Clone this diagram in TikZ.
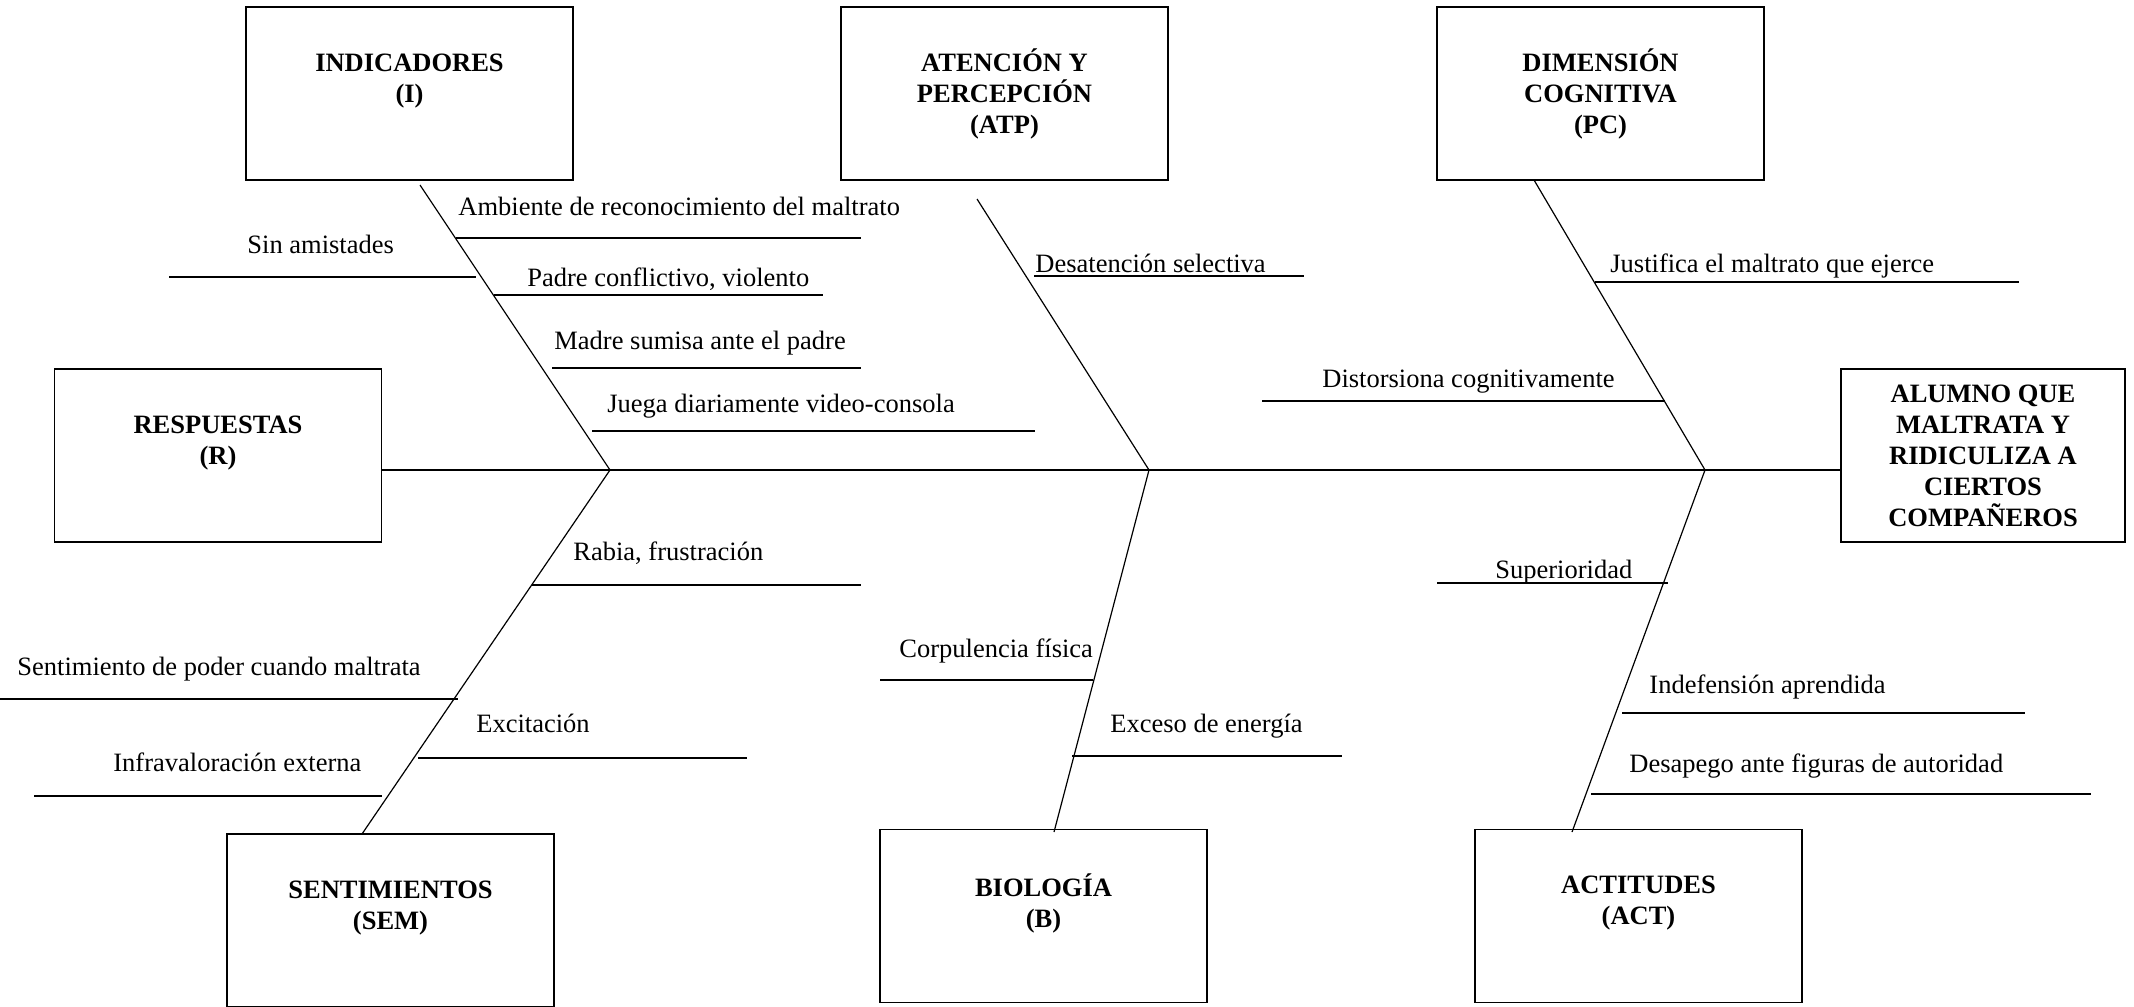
\documentclass[tikz,border=0pt]{standalone}
\usepackage{fontspec}
\setmainfont{Liberation Serif}
\tikzset{
  caja/.style={draw, line width=0.8pt, minimum width=163.5pt, minimum height=86.5pt,
    align=center, inner sep=2pt, font=\fontsize{13.25}{15.5}\selectfont\bfseries},
  causa/.style={anchor=base west, inner sep=0pt, font=\fontsize{13.25}{15.5}\selectfont},
  espina/.style={line width=1pt},
  hueso/.style={line width=0.6pt},
  rama/.style={line width=1pt},
}

\begin{document}
\begin{tikzpicture}[x=0.5pt, y=-0.5pt]
  \useasboundingbox (0,0) rectangle (2134,1006);

  % cajas de categorias
  \node [caja] (ind) at (409.5,93.5) {INDICADORES\\(I)\\~};
  \node [caja] (atp) at (1004.5,93.5) {ATENCIÓN Y\\PERCEPCIÓN\\(ATP)};
  \node [caja] (dc) at (1600.5,93.5) {DIMENSIÓN\\COGNITIVA\\(PC)};
  \node [caja] (resp) at (218,455.5) {RESPUESTAS\\(R)\\~};
  \node [caja, minimum width=142pt] (efecto) at (1983,455.5)
    {ALUMNO QUE\\MALTRATA Y\\RIDICULIZA A\\CIERTOS\\COMPAÑEROS};
  \node [caja] (sem) at (390.5,920.5) {SENTIMIENTOS\\(SEM)\\~};
  \node [caja] (bio) at (1043.5,916) {BIOLOGÍA\\(B)\\~};
  \node [caja] (act) at (1638.5,916) {ACTITUDES\\(ACT)\\~};

  % espina central
  \coordinate (j1) at (610,470);
  \coordinate (j2) at (1149,470);
  \coordinate (j3) at (1705,470);
  \draw [espina] (resp.east |- j1) -- (efecto.west |- j3);

  % huesos
  \coordinate (ind-b) at (420,185);
  \coordinate (atp-b) at (977,199);
  \coordinate (dc-b) at (1534,180);
  \coordinate (sem-b) at (362,834);
  \coordinate (bio-b) at (1054,832);
  \coordinate (act-b) at (1572,832);
  \draw [hueso] (ind-b) -- (j1) -- (sem-b);
  \draw [hueso] (atp-b) -- (j2) -- (bio-b);
  \draw [hueso] (dc-b) -- (j3) -- (act-b);

  % causas: indicadores
  \draw [rama] (456,238) -- (861,238);
  \node [causa] (c1) at (458,215) {Ambiente de reconocimiento del maltrato};
  \draw [rama] (169,277) -- (476,277);
  \node [causa] (c2) at (247,253) {Sin amistades};
  \draw [rama] (494,295) -- (823,295);
  \node [causa] (c3) at (527,286) {Padre conflictivo, violento};
  \draw [rama] (552,368) -- (861,368);
  \node [causa] (c4) at (554,349) {Madre sumisa ante el padre};
  \draw [rama] (592,431) -- (1035,431);
  \node [causa] (c5) at (607,412) {Juega diariamente video-consola};

  % causas: atencion y percepcion
  \draw [rama] (1034,276) -- (1304,276);
  \node [causa] (c6) at (1035,272) {Desatención selectiva};

  % causas: dimension cognitiva
  \draw [rama] (1595,282) -- (2019,282);
  \node [causa] (c7) at (1610,272) {Justifica el maltrato que ejerce};
  \draw [rama] (1262,401) -- (1665,401);
  \node [causa] (c8) at (1322,387) {Distorsiona cognitivamente};

  % causas: sentimientos
  \draw [rama] (532,585) -- (861,585);
  \node [causa] (c9) at (573,560) {Rabia, frustración};
  \draw [rama] (0,699) -- (458,699);
  \node [causa] (c10) at (17,675) {Sentimiento de poder cuando maltrata};
  \draw [rama] (418,758) -- (747,758);
  \node [causa] (c11) at (476,732) {Excitación};
  \draw [rama] (34,796) -- (382,796);
  \node [causa] (c12) at (113,771) {Infravaloración externa};

  % causas: biologia
  \draw [rama] (880,680) -- (1093,680);
  \node [causa] (c13) at (899,657) {Corpulencia física};
  \draw [rama] (1072,756) -- (1342,756);
  \node [causa] (c14) at (1110,732) {Exceso de energía};

  % causas: actitudes
  \draw [rama] (1437,583) -- (1668,583);
  \node [causa] (c15) at (1495,578) {Superioridad};
  \draw [rama] (1622,713) -- (2025,713);
  \node [causa] (c16) at (1649,693) {Indefensión aprendida};
  \draw [rama] (1591,794) -- (2091,794);
  \node [causa] (c17) at (1629,772) {Desapego ante figuras de autoridad};
\end{tikzpicture}
\end{document}
